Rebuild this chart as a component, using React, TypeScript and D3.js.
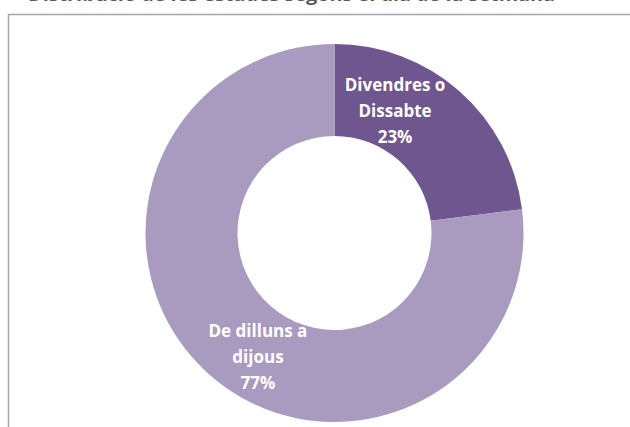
import React from "react";
import * as d3 from "d3";

const categories = ["Divendres o Dissabte", "De dilluns a dijous"];
const labelLines = [["Divendres o", "Dissabte"], ["De dilluns a", "dijous"]];
const values = [23, 77];
const colors = ["#6F568F", "#A99ABF"];
const titleText = "Distribució de les estades segons el dia de la setmana";

const W = 630;
const H = 427;
const cx = 334.5;
const cy = 233;
const outerR = 189;
const innerR = 97;
// label offsets from the arc centroid (style only)
const labelOffsets = [[-34, -15], [18, 17]];

export default function App() {
  const pie = d3.pie<number>().sort(null).value((d) => d)(values);
  const arc = d3.arc<d3.PieArcDatum<number>>().innerRadius(innerR).outerRadius(outerR);
  const font = "'Open Sans', 'Liberation Sans', sans-serif";
  return (
    <svg width={W} height={H} style={{ position: "absolute", left: 0, top: 0, background: "#fff" }}>
      <text x={28} y={0.6} fontFamily={font} fontWeight="bold" fontSize={18} fill="#595959" textLength={527} lengthAdjust="spacingAndGlyphs">
        {titleText}
      </text>
      <rect x={8.5} y={14.5} width={700} height={500} fill="#fff" stroke="#a6a6a6" strokeWidth={1.5} />
      <g transform={`translate(${cx},${cy})`}>
        {pie.map((p, i) => (
          <path key={categories[i]} d={arc(p) || ""} fill={colors[i]} />
        ))}
        {pie.map((p, i) => {
          const [x, y] = arc.centroid(p);
          const lx = x + labelOffsets[i][0];
          const ly = y + labelOffsets[i][1];
          const lines = [...labelLines[i], `${values[i]}%`];
          return (
            <text key={"l" + i} x={lx} y={ly - 26 + 6} textAnchor="middle" fontFamily={font} fontWeight="bold" fontSize={17} fill="#fff">
              {lines.map((t, j) => (
                <tspan key={j} x={lx} dy={j === 0 ? 0 : 26}>{t}</tspan>
              ))}
            </text>
          );
        })}
      </g>
    </svg>
  );
}
